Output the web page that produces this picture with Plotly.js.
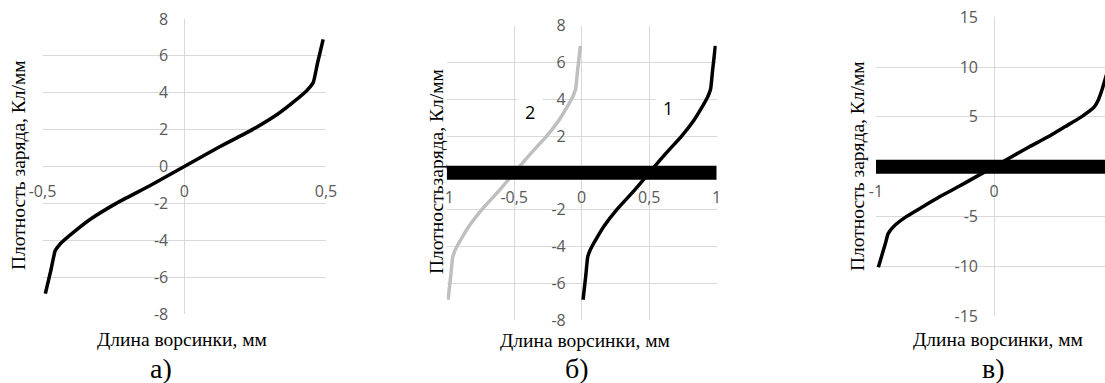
<!DOCTYPE html>
<html>
<head>
<meta charset="utf-8">
<script src="https://cdn.plot.ly/plotly-3.0.1.min.js"></script>
<style>
  html, body { margin: 0; padding: 0; overflow: hidden; background: #ffffff; }
  #chart { width: 1125px; height: 383px; }
</style>
</head>
<body>
<div id="chart"></div>
<script>
// Charge density along a villus, Кл/мм, versus position along the villus, мм.

// а) single villus centred at zero
const lenA = [-0.49, -0.47, -0.455, -0.443, -0.431, -0.39, -0.33, -0.24, -0.12, 0, 0.12, 0.24, 0.33, 0.39, 0.431, 0.443, 0.455, 0.47, 0.49];
const rhoA = [-6.9, -5.6, -4.56, -4.3, -4.1, -3.56, -2.85, -2.0, -1.03, 0, 1.03, 2.0, 2.85, 3.56, 4.1, 4.3, 4.56, 5.6, 6.9];

// б) two villi: curve 1 on the right half, curve 2 on the left half
const len1B = [0.01, 0.03, 0.045, 0.057, 0.069, 0.11, 0.17, 0.26, 0.38, 0.5, 0.62, 0.74, 0.83, 0.89, 0.931, 0.943, 0.955, 0.97, 0.99];
const rho1B = [-6.9, -5.6, -4.56, -4.3, -4.1, -3.56, -2.85, -2.0, -1.03, 0, 1.03, 2.0, 2.85, 3.56, 4.1, 4.3, 4.56, 5.6, 6.9];
const len2B = [-0.99, -0.97, -0.955, -0.943, -0.931, -0.89, -0.83, -0.74, -0.62, -0.5, -0.38, -0.26, -0.17, -0.11, -0.069, -0.057, -0.045, -0.03, -0.01];
const rho2B = [-6.9, -5.6, -4.56, -4.3, -4.1, -3.56, -2.85, -2.0, -1.03, 0, 1.03, 2.0, 2.85, 3.56, 4.1, 4.3, 4.56, 5.6, 6.9];

// в) villus of double length
const lenC = [-0.98, -0.95, -0.92, -0.896, -0.85, -0.74, -0.6, -0.458, -0.3, -0.15, 0, 0.15, 0.3, 0.458, 0.6, 0.74, 0.85, 0.884, 0.92, 0.95, 0.98];
const rhoC = [-10.1, -8.9, -7.7, -6.7, -6.0, -5.0, -4.0, -3.0, -2.0, -1.0, 0, 1.0, 2.0, 3.0, 4.0, 5.0, 6.0, 6.7, 7.9, 9.1, 10.1];

// the villus itself, drawn as a thick bar along the axis
const villusLen = [-1, 1];
const villusRho = [0, 0];

// curve numbers in panel б
const curveNames = ['1', '2'];
const curveNameLen = [0.64, -0.38];
const curveNameRho = [3.5, 3.3];

// tick labels
const xTicksA = [-0.5, 0, 0.5];
const xTextA = ['-0,5', '0', '0,5'];
const xTicksB = [-1, -0.5, 0, 0.5, 1];
const xTextB = ['-1', '-0,5', '0', '0,5', '1'];
const xTicksC = [-1, 0];
const xTextC = ['-1', '0'];
const yTicksAB = [-8, -6, -4, -2, 0, 2, 4, 6, 8];
const yTextAB = ['-8', '-6', '-4', '-2', '0', '2', '4', '6', '8'];
const yTicksC = [-15, -10, -5, 0, 5, 10, 15];
const yTextC = ['-15', '-10', '-5', '0', '5', '10', '15'];

// titles
const xTitle = 'Длина ворсинки, мм';
const yTitle = 'Плотность заряда, Кл/мм';
const yTitleB = 'Плотностьзаряда, Кл/мм';
const panelNames = ['а)', 'б)', 'в)'];

// ---------- layout geometry (pixels) ----------
const W = 1125, H = 383;
const px = v => v / W;
const py = v => 1 - v / H;

const plotBoxes = {
  a: { x0: 42.5, x1: 326, y0: 19, y1: 314, xr: [-0.5, 0.5], yr: [-8, 8] },
  b: { x0: 446.7, x1: 716.7, y0: 25.7, y1: 320, xr: [-1, 1], yr: [-8, 8] },
  c: { x0: 876, x1: 1112, y0: 17.3, y1: 316, xr: [-1, 1], yr: [-15, 15] }
};

const GRID = '#d9d9d9';
const SANS = '"Open Sans", "Liberation Sans", sans-serif';
const SERIF = '"Liberation Serif", "Times New Roman", serif';
const TICKFONT = { family: SANS, size: 16, color: '#595959' };

function zeroAt(d0, d1, r) { return d0 + (0 - r[0]) / (r[1] - r[0]) * (d1 - d0); }

function axes(box, xVals, xText, yVals, yText) {
  const xd = [px(box.x0), px(box.x1)];
  const yd = [py(box.y1), py(box.y0)];
  const common = {
    tickmode: 'array', showgrid: true, gridcolor: GRID, gridwidth: 1,
    zeroline: false, showline: false, ticks: '', fixedrange: true,
    tickfont: TICKFONT, layer: 'below traces', anchor: 'free'
  };
  const xa = Object.assign({}, common, {
    domain: xd, range: box.xr, tickvals: xVals, ticktext: xText,
    position: zeroAt(yd[0], yd[1], box.yr), ticklabelstandoff: 13
  });
  const ya = Object.assign({}, common, {
    domain: yd, range: box.yr, tickvals: yVals, ticktext: yText,
    position: zeroAt(xd[0], xd[1], box.xr), ticklabelstandoff: 16
  });
  return [xa, ya];
}

const [xa1, ya1] = axes(plotBoxes.a, xTicksA, xTextA, yTicksAB, yTextAB);
const [xa2, ya2] = axes(plotBoxes.b, xTicksB, xTextB, yTicksAB, yTextAB);
const [xa3, ya3] = axes(plotBoxes.c, xTicksC, xTextC, yTicksC, yTextC);

const curve = (x, y, xa, ya, color) => ({
  x, y, xaxis: xa, yaxis: ya, type: 'scatter', mode: 'lines',
  line: { color, width: 3.5, shape: 'spline', smoothing: 0.6 },
  hoverinfo: 'skip', showlegend: false
});
const bar = (xa, ya) => ({
  x: villusLen, y: villusRho, xaxis: xa, yaxis: ya, type: 'scatter', mode: 'lines',
  line: { color: '#000000', width: 14 }, hoverinfo: 'skip', showlegend: false
});

const data = [
  curve(lenA, rhoA, 'x', 'y', '#000000'),
  curve(len2B, rho2B, 'x2', 'y2', '#bfbfbf'),
  curve(len1B, rho1B, 'x2', 'y2', '#000000'),
  bar('x2', 'y2'),
  curve(lenC, rhoC, 'x3', 'y3', '#000000'),
  bar('x3', 'y3')
];

const ann = [];
function textAt(xpx, ypx, text, size, angle) {
  ann.push({
    xref: 'paper', yref: 'paper', x: px(xpx), y: py(ypx), text,
    showarrow: false, xanchor: 'center', yanchor: 'middle',
    textangle: angle || 0, font: { family: SERIF, size, color: '#000000' }
  });
}
// axis titles
textAt(18, 165, yTitle, 19.5, -90);
textAt(182, 339, xTitle, 19.5);
textAt(436, 172, yTitleB, 19.5, -90);
textAt(585, 340, xTitle, 19.5);
textAt(858, 166, yTitle, 19.5, -90);
textAt(998, 339, xTitle, 19.5);
// panel letters
textAt(161, 368, panelNames[0], 28);
textAt(577, 368, panelNames[1], 28);
textAt(993, 368, panelNames[2], 28);
// curve numbers
curveNames.forEach((t, i) => ann.push({
  xref: 'x2', yref: 'y2', x: curveNameLen[i], y: curveNameRho[i], text: t,
  showarrow: false, bgcolor: '#ffffff', borderpad: 7,
  font: { family: SANS, size: 18, color: '#000000' }
}));

const layout = {
  width: W, height: H, margin: { l: 0, r: 0, t: 0, b: 0 },
  paper_bgcolor: '#ffffff', plot_bgcolor: '#ffffff', showlegend: false,
  separators: ', ',
  xaxis: xa1, yaxis: ya1, xaxis2: xa2, yaxis2: ya2, xaxis3: xa3, yaxis3: ya3,
  annotations: ann
};

Plotly.newPlot('chart', data, layout, { staticPlot: true, displayModeBar: false });
</script>
</body>
</html>
